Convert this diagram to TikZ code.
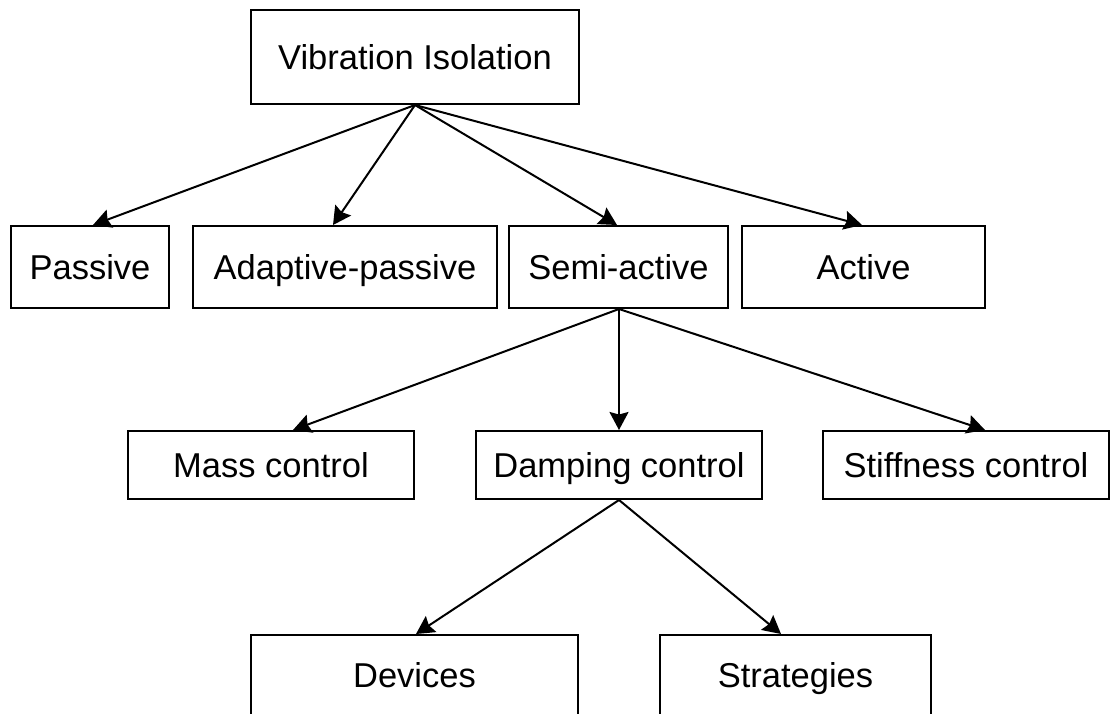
\documentclass[tikz,border=0pt]{standalone}
\usepackage{fontspec}
\setmainfont{Liberation Sans}
\usetikzlibrary{arrows.meta}
\begin{document}
\begin{tikzpicture}[x=1pt,y=-1pt,
  box/.style={draw=black, line width=2pt, rectangle, inner sep=0pt, fill=white,
    font=\fontsize{34.5}{40}\selectfont, text=black, text height=24.5pt, text depth=0pt},
  conn/.style={draw=black, line width=2pt, -{Stealth[length=18pt,width=19pt,inset=2.5pt]}}]
\useasboundingbox (0,0) rectangle (1110,713);
\clip (0,0) rectangle (1110,713);
\fill[white] (0,0) rectangle (1110,713);
% nodes
\node[box, minimum width=328pt, minimum height=94pt] (vib) at (415,57) {Vibration Isolation};
\node[box, minimum width=158pt, minimum height=82pt] (pas) at (90,267) {Passive};
\node[box, minimum width=304pt, minimum height=82pt] (adp) at (345,267) {Adaptive-passive};
\node[box, minimum width=219pt, minimum height=82pt] (semi) at (618.5,267) {Semi-active};
\node[box, minimum width=243pt, minimum height=82pt] (act) at (863.5,267) {Active};
\node[box, minimum width=286pt, minimum height=68pt] (mass) at (271,465) {Mass control};
\node[box, minimum width=286pt, minimum height=68pt] (damp) at (619,465) {Damping control};
\node[box, minimum width=286pt, minimum height=68pt] (stiff) at (966,465) {Stiffness control};
\node[box, minimum width=327pt, minimum height=80pt] (dev) at (414.5,675) {Devices};
\node[box, minimum width=271pt, minimum height=80pt] (str) at (795.5,675) {Strategies};
% connectors
\draw[conn] (vib.south) -- ([xshift=3pt]pas.north);
\draw[conn] (vib.south) -- ([xshift=-12pt]adp.north);
\draw[conn] (vib.south) -- ([xshift=-1.5pt]semi.north);
\draw[conn] (vib.south) -- ([xshift=-1.5pt]act.north);
\draw[conn] ([xshift=0.5pt]semi.south) -- ([xshift=22pt]mass.north);
\draw[conn] ([xshift=0.5pt]semi.south) -- (damp.north);
\draw[conn] ([xshift=0.5pt]semi.south) -- ([xshift=19pt]stiff.north);
\draw[conn] (damp.south) -- ([xshift=1.5pt]dev.north);
\draw[conn] (damp.south) -- ([xshift=-14.5pt]str.north);
\end{tikzpicture}
\end{document}
